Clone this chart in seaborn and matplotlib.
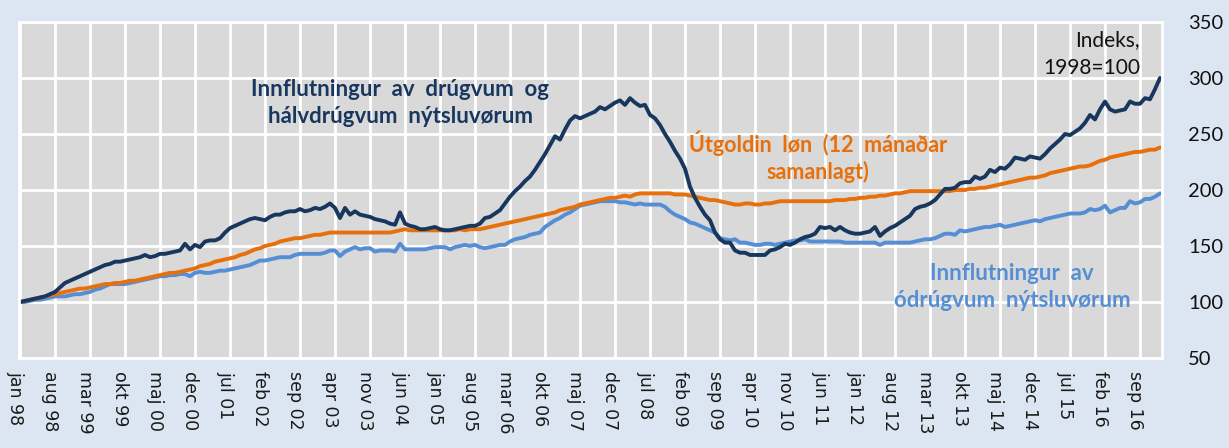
import numpy as np
import pandas as pd
import matplotlib
matplotlib.use("Agg")
import matplotlib.pyplot as plt
from matplotlib.transforms import ScaledTranslation
import seaborn as sns

# ---------------- data (index, 1998=100), monthly jan 98 - jan 17 ----------------
durable = [
    100, 101, 102, 103, 104, 105, 107, 109, 113, 117, 119, 121,   # 1998
    123, 125, 127, 129, 131, 133, 134, 136, 136, 137, 138, 139,   # 1999
    140, 142, 140, 141, 143, 143, 144, 145, 146, 152, 147, 151,   # 2000
    149, 154, 155, 155, 157, 162, 166, 168, 170, 172, 174, 175,   # 2001
    174, 173, 176, 178, 178, 180, 181, 181, 183, 181, 182, 184,   # 2002
    183, 185, 188, 184, 175, 184, 178, 181, 178, 177, 176, 174,   # 2003
    173, 172, 170, 169, 180, 170, 168, 167, 165, 165, 166, 167,   # 2004
    165, 164, 164, 165, 166, 167, 168, 168, 170, 175, 176, 179,   # 2005
    182, 188, 194, 199, 203, 208, 212, 218, 225, 232, 240, 248,   # 2006
    245, 254, 262, 266, 264, 266, 268, 270, 274, 272, 275, 278,   # 2007
    280, 276, 282, 278, 275, 276, 267, 264, 258, 250, 243, 235,   # 2008
    228, 219, 203, 193, 185, 178, 173, 162, 156, 153, 153, 146,   # 2009
    144, 144, 142, 142, 142, 142, 146, 147, 149, 152, 151, 153,   # 2010
    156, 158, 159, 161, 167, 166, 167, 164, 167, 164, 162, 161,   # 2011
    161, 162, 163, 167, 159, 163, 166, 168, 171, 174, 177, 183,   # 2012
    185, 186, 188, 191, 196, 201, 201, 202, 206, 207, 207, 212,   # 2013
    210, 212, 218, 216, 220, 219, 223, 229, 228, 227, 230, 229,   # 2014
    228, 232, 237, 241, 245, 250, 249, 252, 255, 260, 267, 263,   # 2015
    272, 279, 272, 270, 271, 272, 279, 277, 277, 282, 281, 290,   # 2016
    300,                                                          # 2017
]
wages = [
    100, 101, 102, 103, 104, 105, 106, 107, 108, 109, 110, 111,
    112, 112, 113, 114, 115, 116, 116, 117, 117, 118, 119, 119,
    120, 121, 122, 123, 124, 125, 126, 126, 127, 128, 129, 130,
    132, 133, 134, 136, 137, 138, 139, 140, 142, 143, 145, 147,
    148, 150, 151, 152, 154, 155, 156, 157, 157, 158, 159, 160,
    160, 161, 162, 162, 162, 162, 162, 162, 162, 162, 162, 162,
    162, 162, 162, 163, 164, 165, 164, 164, 164, 164, 164, 164,
    164, 164, 164, 164, 165, 164, 165, 165, 165, 166, 167, 168,
    169, 170, 171, 172, 173, 174, 175, 176, 177, 178, 179, 180,
    182, 183, 184, 185, 187, 188, 189, 190, 191, 192, 193, 193,
    194, 195, 194, 196, 197, 197, 197, 197, 197, 197, 197, 196,
    196, 196, 195, 194, 193, 192, 191, 191, 190, 189, 188, 187,
    187, 188, 188, 187, 187, 188, 188, 189, 190, 190, 190, 190,
    190, 190, 190, 190, 190, 190, 190, 191, 191, 191, 192, 192,
    193, 193, 194, 194, 195, 195, 196, 197, 197, 198, 199, 199,
    199, 199, 199, 199, 199, 199, 199, 200, 200, 200, 201, 201,
    202, 202, 203, 204, 205, 206, 207, 208, 209, 210, 211, 211,
    212, 213, 215, 216, 217, 218, 219, 220, 221, 221, 222, 224,
    226, 227, 229, 230, 231, 232, 233, 234, 234, 235, 236, 236,
    238,
]
nondurable = [
    100, 100, 101, 102, 102, 103, 104, 105, 105, 105, 106, 107,
    107, 108, 109, 111, 112, 114, 116, 116, 116, 116, 117, 118,
    119, 120, 121, 122, 123, 123, 124, 124, 125, 125, 123, 126,
    127, 126, 126, 127, 128, 128, 129, 130, 131, 132, 133, 135,
    137, 137, 138, 139, 140, 140, 140, 142, 143, 143, 143, 143,
    143, 144, 146, 146, 141, 145, 147, 149, 147, 148, 148, 145,
    146, 146, 146, 145, 152, 147, 147, 147, 147, 147, 148, 149,
    149, 149, 147, 149, 150, 151, 150, 151, 149, 148, 149, 150,
    151, 151, 154, 156, 157, 158, 160, 161, 162, 167, 170, 173,
    175, 178, 180, 183, 186, 187, 188, 189, 190, 190, 190, 190,
    189, 189, 188, 187, 188, 187, 187, 187, 187, 185, 181, 178,
    176, 174, 171, 170, 168, 166, 164, 162, 157, 156, 155, 156,
    153, 153, 152, 151, 151, 152, 152, 151, 152, 153, 154, 155,
    155, 156, 154, 154, 154, 154, 154, 154, 154, 153, 153, 153,
    153, 153, 153, 153, 151, 153, 153, 153, 153, 153, 153, 154,
    155, 156, 156, 157, 159, 161, 161, 160, 164, 163, 164, 165,
    166, 167, 167, 168, 169, 167, 168, 169, 170, 171, 172, 173,
    172, 174, 175, 176, 177, 178, 179, 179, 179, 180, 183, 182,
    183, 186, 180, 182, 184, 184, 190, 188, 189, 192, 192, 194,
    197,
]
tick_labels = ["jan 98", "aug 98", "mar 99", "okt 99", "maj 00", "dec 00", "jul 01",
               "feb 02", "sep 02", "apr 03", "nov 03", "jun 04", "jan 05", "aug 05",
               "mar 06", "okt 06", "maj 07", "dec 07", "jul 08", "feb 09", "sep 09",
               "apr 10", "nov 10", "jun 11", "jan 12", "aug 12", "mar 13", "okt 13",
               "maj 14", "dec 14", "jul 15", "feb 16", "sep 16"]
y_ticks = [50, 100, 150, 200, 250, 300, 350]

series_names = ["nondurable", "wages", "durable"]
series_values = [nondurable, wages, durable]
colors = {"nondurable": "#558ED5", "wages": "#E8700C", "durable": "#17375E"}

rows = []
for name, vals in zip(series_names, series_values):
    for i, v in enumerate(vals):
        rows.append({"month": i, "value": v, "series": name})
df = pd.DataFrame(rows)

# ---------------- style ----------------
sns.set_style("white")
plt.rcParams["font.family"] = ["Lato", "DejaVu Sans"]

BG = "#DCE6F2"
fig = plt.figure(figsize=(12.29, 4.48), dpi=100, facecolor=BG)
ax = fig.add_axes([19 / 1229, 90 / 448, 1143 / 1229, 336 / 448])
ax.set_facecolor("#D9D9D9")

sns.lineplot(data=df, x="month", y="value", hue="series", palette=colors,
             hue_order=series_names, linewidth=2.8, legend=False, ax=ax)

ax.set_xlim(-0.2, 228.4)
ax.set_ylim(50, 350)
ax.set_xlabel("")
ax.set_ylabel("")

xt = np.arange(0, 7 * len(tick_labels), 7)
ax.set_xticks(xt)
ax.set_xticklabels(tick_labels, rotation=270, fontsize=12.5, family="DejaVu Sans",
                   color="#1a1a1a")
ax.set_yticks(y_ticks)
ax.set_yticklabels([str(v) for v in y_ticks], fontsize=14.5, color="#111111")
ax.yaxis.tick_right()
ax.tick_params(axis="y", length=0, pad=19)
ax.tick_params(axis="x", length=0, pad=9)
for lbl in ax.get_xticklabels():
    lbl.set_transform(lbl.get_transform() + ScaledTranslation(-5 / 100, 0, fig.dpi_scale_trans))

ax.grid(True, color="white", linewidth=2)
ax.set_axisbelow(True)
for s in ax.spines.values():
    s.set_color("white")
    s.set_linewidth(2)

# ---------------- annotations ----------------
ax.text(76, 277.7, "Innflutningur  av  drúgvum  og\nhálvdrúgvum  nýtsluvørum",
        ha="center", va="center", fontsize=16, fontweight="bold",
        color="#17375E", linespacing=1.3)
ax.text(159.6, 229.5, "Útgoldin  løn  (12  mánaðar\nsamanlagt)",
        ha="center", va="center", fontsize=15.5, fontweight="bold",
        color="#E8700C", linespacing=1.3)
ax.text(198.4, 113.4, "Innflutningur  av\nódrúgvum  nýtsluvørum",
        ha="center", va="center", fontsize=16, fontweight="bold",
        color="#558ED5", linespacing=1.3)
ax.text(224, 321, "Indeks,\n1998=100", ha="right", va="center",
        fontsize=15, color="#111111", linespacing=1.5)

fig.savefig("out.png", dpi=100, facecolor=BG)
